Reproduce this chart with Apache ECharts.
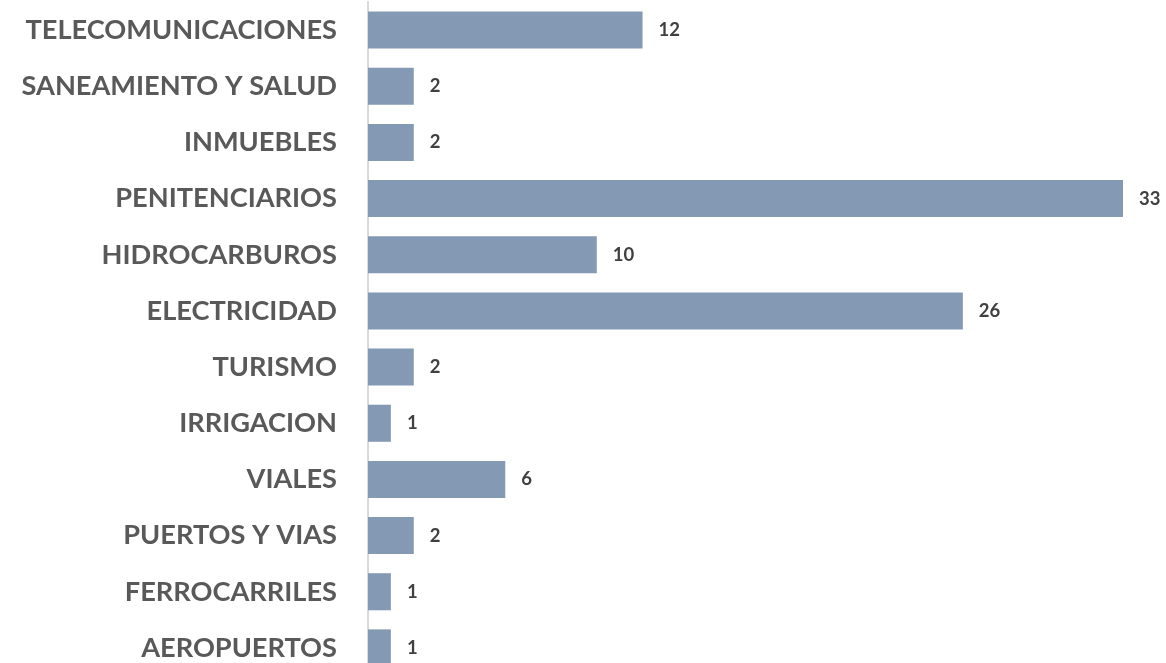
<!DOCTYPE html>
<html><head><meta charset="utf-8">
<script src="https://cdn.jsdelivr.net/npm/echarts@6/dist/echarts.min.js"></script>
<style>html,body{margin:0;padding:0;background:#fff}#c{width:1166px;height:663px}</style>
</head><body><div id="c"></div>
<script>
const categories = ["TELECOMUNICACIONES","SANEAMIENTO Y SALUD","INMUEBLES","PENITENCIARIOS","HIDROCARBUROS","ELECTRICIDAD","TURISMO","IRRIGACION","VIALES","PUERTOS Y VIAS","FERROCARRILES","AEROPUERTOS"];
const values = [12,2,2,33,10,26,2,1,6,2,1,1];
const chart = echarts.init(document.getElementById('c'));
chart.setOption({
  animation:false,
  grid:{left:368,width:755,top:2,height:674,containLabel:false,outerBoundsMode:'none'},
  xAxis:{type:'value',min:0,max:33,show:false},
  yAxis:{type:'category',data:categories,inverse:true,
    axisLine:{show:true,lineStyle:{color:'#d9d9d9',width:2}},
    axisTick:{show:false},
    axisLabel:{margin:31,fontFamily:'Lato',fontWeight:'bold',fontSize:27.2,color:'#595959'}},
  series:[{type:'bar',data:values,barCategoryGap:'34%',
    itemStyle:{color:'#8499b3'},
    label:{show:true,position:'right',distance:16,fontFamily:'Lato',fontWeight:'bold',fontSize:18.5,color:'#404040'}}]
});
</script></body></html>
